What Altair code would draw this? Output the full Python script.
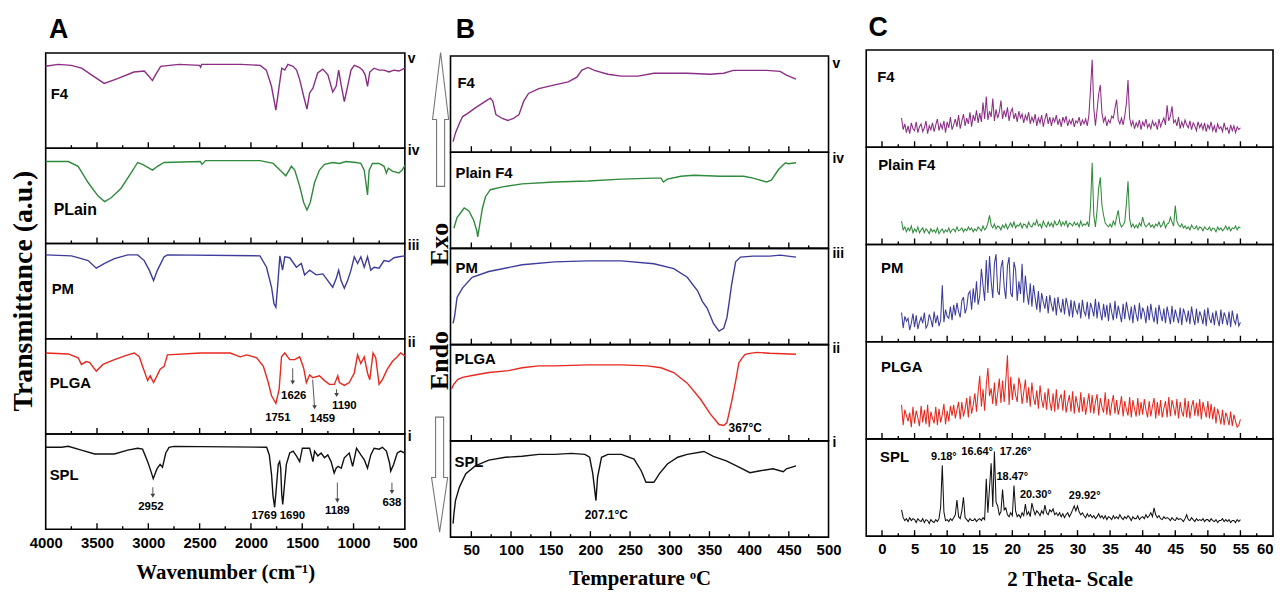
import altair as alt
import pandas as pd

SANS = "'Liberation Sans Narrow', 'Arial Narrow', 'Liberation Sans', Arial, sans-serif"
SERIF = "'Liberation Serif', 'Times New Roman', serif"
LETTER = "'Liberation Sans', Arial, sans-serif"

COL_F4 = "#8b2d84"
COL_PLAIN = "#2f8a3c"
COL_PM = "#3c3c9c"
COL_PLGA = "#e6281e"
COL_SPL = "#111111"

# ---------------- Panel A : FTIR (wavenumber, transmittance a.u. 0-100 per strip) -------------
ftir_f4_wn = [4000, 3880, 3750, 3650, 3540, 3430, 3300, 3140, 3040, 2990, 2960, 2930, 2880, 2700, 2500, 2490,
              2480, 2100, 1910, 1850, 1800, 1757, 1725, 1700, 1670, 1640, 1590, 1555, 1525, 1485, 1454, 1428,
              1396, 1350, 1300, 1250, 1203, 1170, 1145, 1122, 1090, 1058, 1025, 993, 945, 912, 887, 864, 842,
              800, 750, 703, 655, 606, 558, 500]
ftir_f4 = [86, 88, 87, 84, 76, 68, 73, 80, 81, 75, 71, 77, 86, 88, 87, 85,
           88, 88, 87, 82, 65, 40, 65, 84, 82, 88, 86, 82, 72, 54, 41, 58,
           63, 79, 83, 77, 59, 65, 82, 67, 49, 65, 82, 87, 85, 82, 77, 65, 80,
           84, 82, 82, 80, 82, 81, 84]

ftir_plain_wn = [4000, 3780, 3684, 3587, 3491, 3426, 3362, 3265, 3168, 3104, 3056, 2959, 2911, 2846, 2492, 2476,
                 2443, 1912, 1783, 1718, 1660, 1606, 1573, 1525, 1486, 1454, 1422, 1380, 1332, 1283, 1203, 1138,
                 1074, 977, 929, 896, 880, 864, 848, 816, 751, 703, 680, 661, 622, 558, 526, 500]
ftir_plain = [86, 86, 81, 64, 50, 44, 48, 58, 74, 85, 83, 77, 81, 85, 86, 83,
              87, 87, 84, 77, 71, 81, 77, 60, 43, 35, 43, 64, 77, 83, 85, 84,
              86, 85, 84, 77, 64, 51, 77, 84, 84, 81, 74, 79, 76, 74, 77, 82]

ftir_pm_wn = [4000, 3750, 3652, 3587, 3507, 3426, 3330, 3200, 3104, 3040, 2991, 2949, 2911, 2846, 2814, 1912,
              1848, 1799, 1776, 1757, 1740, 1718, 1692, 1670, 1622, 1557, 1509, 1477, 1428, 1364, 1299, 1251,
              1203, 1170, 1145, 1122, 1090, 1058, 1025, 993, 961, 929, 896, 864, 832, 800, 751, 703, 655, 606,
              558, 500]
ftir_pm = [88, 87, 84, 82, 74, 79, 84, 88, 88, 82, 72, 61, 72, 86, 88, 87,
           75, 54, 37, 33, 55, 87, 72, 86, 85, 75, 79, 67, 72, 67, 68, 61,
           54, 63, 72, 61, 53, 61, 72, 86, 79, 86, 75, 86, 72, 75, 74, 82, 81, 85,
           86, 87]

ftir_plga_wn = [4000, 3781, 3684, 3652, 3604, 3571, 3507, 3442, 3330, 3201, 3136, 3088, 3056, 3007, 2982, 2949,
                2911, 2885, 2846, 2814, 2492, 2202, 2105, 2041, 1944, 1879, 1831, 1799, 1757, 1725, 1702, 1670,
                1622, 1573, 1525, 1486, 1460, 1428, 1396, 1332, 1283, 1235, 1187, 1154, 1138, 1090, 1042, 993,
                961, 929, 896, 864, 842, 810, 784, 751, 719, 671, 622, 574, 542, 500]
ftir_plga = [85, 84, 80, 73, 76, 75, 66, 73, 78, 83, 85, 81, 71, 56, 61, 54,
             62, 68, 71, 83, 85, 85, 81, 83, 80, 71, 54, 40, 32, 47, 81, 85,
             78, 78, 81, 69, 54, 62, 59, 61, 56, 52, 52, 61, 54, 51, 54, 64,
             83, 74, 81, 64, 57, 85, 80, 52, 57, 68, 76, 81, 85, 82]

ftir_spl_wn = [4000, 3845, 3781, 3652, 3523, 3330, 3201, 3104, 3056, 3007, 2975, 2952, 2917, 2885, 2862, 2830,
               2798, 2750, 1847, 1821, 1799, 1785, 1769, 1752, 1734, 1720, 1710, 1700, 1690, 1675, 1655, 1622,
               1589, 1557, 1525, 1499, 1428, 1396, 1380, 1348, 1316, 1283, 1251, 1219, 1189, 1170, 1150, 1120,
               1090, 1042, 1009, 971, 929, 896, 864, 832, 800, 751, 719, 680, 648, 638, 610, 574, 542, 500]
ftir_spl = [86, 86, 87, 83, 79, 79, 83, 85, 84, 71, 61, 53, 63, 68, 65, 80,
            86, 87, 86, 78, 57, 35, 23, 44, 68, 71, 64, 37, 26, 44, 68, 80,
            82, 77, 71, 85, 85, 71, 82, 77, 80, 75, 78, 71, 59, 64, 66, 64,
            75, 80, 66, 85, 78, 73, 64, 78, 85, 84, 86, 82, 69, 61, 68, 80, 82, 80]

# peak annotations (wavenumber, level, text) and arrows (x, x2, y, y2)
plga_ann_x = [1583, 1738, 1303, 1090]
plga_ann_y = [40, 17, 16, 29]
plga_ann_s = ["1626", "1751", "1459", "1190"]
plga_arr_x = [1593, 1399, 1167]
plga_arr_x2 = [1593, 1380, 1165]
plga_arr_y = [69, 57, 47]
plga_arr_y2 = [54, 28, 41]

spl_ann_x = [2975, 1872, 1596, 1158, 626]
spl_ann_y = [23, 14, 14, 19, 28]
spl_ann_s = ["2952", "1769", "1690", "1189", "638"]
spl_arr_x = [2956, 1158, 626]
spl_arr_x2 = [2956, 1158, 626]
spl_arr_y = [44, 49, 49]
spl_arr_y2 = [35, 30, 39]

ftir_major = [3500, 3000, 2500, 2000, 1500, 1000]
ftir_minor = [3750, 3250, 2750, 2250, 1750, 1250, 750]
ftir_labels = [4000, 3500, 3000, 2500, 2000, 1500, 1000, 500]

# ---------------- Panel B : DSC (temperature, heat flow a.u.) -------------
dsc_f4_t = [27, 30, 35, 39, 45, 55, 68, 74, 77, 81, 89, 96, 103, 110, 116, 122, 135, 155, 172, 183,
            189, 197, 205, 222, 239, 260, 280, 301, 322, 351, 368, 380, 397, 422, 439, 447, 459]
dsc_f4 = [11, 20, 30, 37, 40, 46, 53, 56, 53, 39, 35, 33, 35, 39, 53, 61, 66, 70, 73, 78,
          85, 88, 85, 81, 79, 79, 82, 82, 82, 81, 82, 85, 85, 85, 84, 80, 76]

dsc_plain_t = [28, 32, 41, 47, 53, 57, 58, 60, 64, 68, 74, 89, 114, 155, 197, 239,
               280, 289, 292, 297, 314, 330, 364, 393, 405, 422, 428, 437, 443, 446, 449, 459]
dsc_plain = [21, 32, 42, 39, 29, 18, 12, 22, 42, 54, 61, 64, 67, 69, 70, 72,
             73, 73, 69, 72, 75, 76, 75, 75, 73, 69, 71, 82, 87, 89, 88, 89]

dsc_pm_t = [27, 29, 32, 39, 51, 72, 114, 155, 197, 239, 280, 305, 322, 335, 341, 347,
            355, 362, 368, 372, 375, 378, 383, 389, 405, 426, 439, 459]
dsc_pm = [22, 30, 49, 59, 70, 76, 83, 86, 87, 87, 84, 79, 70, 56, 45, 38,
          22, 14, 17, 28, 45, 63, 86, 91, 92, 92, 93, 91]

dsc_plga_t = [25, 28, 33, 39, 51, 72, 97, 114, 135, 155, 197, 239, 272, 289, 305, 322,
              339, 351, 362, 368, 372, 378, 383, 387, 391, 395, 401, 410, 426, 459]
dsc_plga = [54, 59, 64, 66, 68, 71, 73, 76, 78, 78, 79, 79, 78, 76, 71, 60,
            43, 28, 17, 16, 19, 41, 62, 81, 86, 90, 91, 92, 91, 90]

dsc_spl_t = [27, 28, 30, 35, 43, 55, 72, 93, 114, 135, 155, 176, 193, 199, 203, 207, 209, 214, 222,
             239, 255, 264, 270, 280, 287, 297, 310, 322, 343, 355, 372, 389, 401, 414, 430, 443, 447, 459]
dsc_spl = [14, 24, 38, 52, 66, 74, 80, 83, 84, 86, 86, 87, 86, 83, 66, 38, 62, 83, 86,
           86, 81, 69, 57, 57, 66, 76, 83, 86, 89, 84, 79, 72, 67, 69, 71, 68, 71, 74]

dsc_major = [50, 100, 150, 200, 250, 300, 350, 400, 450]
dsc_minor = [75, 125, 175, 225, 275, 325, 375, 425, 475]
dsc_labels = [50, 100, 150, 200, 250, 300, 350, 400, 450, 500]

# ---------------- Panel C : XRD (2 theta from 3 to 55 in steps of 0.25) -------------
XRD_START, XRD_STEP = 3.0, 0.25
xrd_f4 = [30, 18, 24, 15, 22, 14, 25, 19, 17, 26, 15, 21, 24, 16, 20, 27,
          14, 22, 18, 25, 16, 23, 29, 17, 24, 19, 27, 15, 26, 20, 31, 18,
          23, 29, 21, 33, 19, 27, 34, 22, 30, 24, 36, 21, 33, 27, 38, 25,
          35, 26, 46, 29, 52, 28, 37, 31, 50, 27, 39, 30, 36, 48, 29, 38,
          31, 41, 27, 36, 40, 29, 35, 26, 37, 30, 34, 25, 33, 28, 36, 24,
          31, 26, 34, 22, 30, 25, 33, 21, 29, 35, 24, 31, 22, 30, 26, 33,
          23, 29, 21, 31, 26, 32, 22, 28, 24, 30, 21, 27, 25, 31, 22, 28,
          24, 29, 22, 33, 60, 90, 40, 22, 38, 55, 64, 35, 26, 31, 22, 28,
          25, 32, 30, 40, 49, 28, 24, 30, 23, 32, 45, 69, 30, 22, 27, 19,
          25, 21, 28, 18, 26, 22, 29, 20, 24, 19, 27, 22, 25, 18, 29, 21,
          26, 30, 23, 43, 27, 32, 42, 25, 28, 22, 31, 19, 26, 21, 28, 23,
          20, 27, 18, 25, 22, 17, 26, 20, 24, 18, 25, 16, 23, 19, 26, 17,
          22, 15, 24, 19, 21, 16, 25, 18, 20, 14, 23, 17, 22, 15, 21, 18,
          20]
xrd_plain = [24, 15, 18, 13, 17, 14, 19, 12, 16, 13, 18, 12, 15, 17, 12, 16,
             14, 11, 16, 13, 15, 12, 17, 11, 14, 16, 12, 15, 13, 17, 12, 15,
             16, 13, 18, 14, 15, 17, 13, 16, 14, 18, 15, 17, 13, 16, 14, 18,
             16, 14, 19, 15, 17, 22, 30, 20, 17, 21, 16, 19, 18, 15, 20, 17,
             21, 16, 19, 22, 18, 23, 17, 20, 19, 22, 17, 21, 20, 17, 23, 19,
             18, 22, 20, 25, 19, 21, 17, 24, 20, 18, 23, 19, 22, 18, 24, 20,
             21, 25, 19, 23, 20, 24, 18, 22, 21, 19, 23, 20, 22, 18, 24, 19,
             21, 20, 23, 18, 40, 84, 30, 18, 35, 58, 69, 40, 30, 22, 20, 18,
             21, 18, 24, 20, 28, 35, 22, 18, 20, 23, 42, 65, 26, 18, 21, 17,
             20, 17, 22, 19, 28, 21, 18, 20, 22, 18, 20, 17, 21, 19, 23, 18,
             20, 24, 17, 21, 22, 28, 23, 19, 40, 24, 20, 18, 21, 17, 19, 16,
             18, 15, 20, 17, 16, 19, 15, 18, 17, 14, 18, 16, 15, 18, 14, 17,
             16, 13, 18, 15, 17, 14, 16, 19, 15, 18, 14, 17, 16, 19, 15, 18,
             17]
xrd_pm = [30, 14, 26, 21, 24, 12, 19, 29, 15, 27, 13, 20, 25, 19, 30, 14,
          17, 28, 23, 15, 31, 19, 27, 16, 22, 58, 20, 33, 26, 24, 36, 22,
          38, 27, 40, 31, 25, 42, 46, 29, 35, 49, 52, 33, 55, 40, 62, 38,
          47, 75, 58, 42, 84, 50, 88, 62, 45, 80, 90, 52, 48, 76, 84, 56,
          44, 78, 87, 50, 46, 82, 74, 42, 62, 49, 80, 40, 68, 50, 38, 60,
          36, 58, 45, 33, 52, 30, 50, 41, 34, 47, 29, 48, 38, 31, 45, 27,
          46, 35, 30, 44, 28, 45, 37, 26, 43, 25, 42, 33, 29, 40, 24, 43,
          31, 27, 41, 23, 40, 34, 26, 44, 24, 41, 30, 22, 39, 25, 38, 21,
          40, 30, 22, 42, 24, 37, 29, 20, 39, 23, 41, 31, 22, 36, 19, 38,
          28, 21, 40, 23, 35, 30, 19, 37, 22, 39, 27, 20, 35, 18, 38, 29,
          21, 34, 19, 36, 27, 18, 37, 20, 33, 26, 19, 35, 17, 34, 28, 20,
          32, 18, 36, 25, 17, 34, 19, 31, 26, 18, 33, 16, 35, 24, 19, 30,
          17, 32, 23, 16, 33, 18, 30, 25, 17, 31, 15, 32, 22, 18, 29, 16,
          20]
xrd_plga = [35, 14, 30, 24, 18, 27, 12, 33, 16, 29, 22, 13, 34, 17, 30, 15,
            35, 12, 28, 21, 16, 33, 14, 31, 17, 25, 36, 15, 29, 18, 34, 24,
            35, 21, 30, 38, 20, 38, 23, 31, 42, 22, 44, 26, 35, 47, 28, 48,
            65, 33, 51, 29, 55, 73, 44, 52, 36, 58, 34, 47, 62, 37, 60, 38,
            60, 86, 35, 64, 40, 57, 45, 38, 63, 55, 36, 48, 61, 37, 53, 33,
            58, 42, 35, 50, 31, 55, 40, 32, 48, 30, 52, 38, 29, 47, 28, 51,
            30, 41, 46, 29, 50, 27, 37, 45, 28, 49, 26, 44, 35, 27, 48, 28,
            43, 25, 36, 47, 27, 45, 26, 38, 46, 24, 42, 33, 27, 48, 25, 41,
            24, 36, 45, 26, 40, 25, 33, 44, 23, 39, 30, 24, 43, 22, 40, 31,
            23, 42, 24, 38, 25, 41, 30, 22, 39, 23, 34, 42, 21, 38, 24, 40,
            22, 31, 39, 22, 43, 23, 40, 33, 24, 41, 21, 38, 28, 23, 42, 22,
            39, 21, 33, 40, 24, 37, 23, 41, 20, 38, 30, 22, 39, 21, 36, 20,
            33, 16, 31, 24, 15, 30, 14, 27, 22, 14, 28, 13, 25, 18, 12, 14,
            20]
xrd_spl = [27, 19, 16, 18, 15, 19, 16, 18, 17, 14, 18, 16, 15, 18, 14, 17,
           16, 13, 17, 15, 14, 17, 15, 18, 30, 73, 25, 16, 17, 15, 18, 16,
           19, 22, 37, 20, 18, 26, 40, 19, 17, 15, 18, 16, 16, 18, 15, 17,
           18, 16, 19, 17, 59, 24, 50, 75, 30, 87, 35, 31, 22, 25, 48, 27,
           29, 22, 20, 24, 21, 52, 26, 20, 22, 19, 24, 21, 33, 22, 25, 20,
           34, 27, 22, 26, 24, 21, 26, 23, 32, 24, 22, 27, 25, 28, 22, 24,
           21, 24, 20, 23, 19, 22, 24, 20, 23, 27, 31, 26, 31, 25, 22, 24,
           21, 19, 23, 20, 22, 19, 21, 18, 20, 23, 19, 21, 18, 21, 17, 20,
           19, 17, 21, 18, 20, 18, 22, 19, 17, 20, 18, 21, 19, 16, 20, 18,
           18, 21, 17, 19, 20, 18, 22, 19, 21, 24, 20, 29, 22, 19, 21, 18,
           17, 20, 18, 19, 18, 16, 19, 17, 16, 19, 17, 18, 17, 15, 18, 22,
           17, 16, 19, 17, 15, 18, 16, 17, 16, 18, 15, 17, 17, 15, 18, 16,
           15, 17, 14, 16, 16, 18, 15, 17, 15, 17, 14, 16, 16, 14, 17, 15,
           17]

xrd_ann_x = [9.5, 14.6, 20.5, 20.0, 23.6, 31.1]
xrd_ann_y = [81, 87, 87, 61, 42, 41]
xrd_ann_s = ["9.18°", "16.64°", "17.26°", "18.47°", "20.30°", "29.92°"]

xrd_major = [0, 5, 10, 15, 20, 25, 30, 35, 40, 45, 50, 55]
xrd_minor = [2.5, 7.5, 12.5, 17.5, 22.5, 27.5, 32.5, 37.5, 42.5, 47.5, 52.5, 57.5]
xrd_labels = [0, 5, 10, 15, 20, 25, 30, 35, 40, 45, 50, 55, 60]

dsc_ann_plga = ("367°C", 395, 13)
dsc_ann_spl = ("207.1°C", 220, 23)


def xrd_theta(vals):
    return [XRD_START + XRD_STEP * i for i in range(len(vals))]


# ---------------- helpers -------------
def txt(s, x, y, size, align="left", font=SANS, angle=None, color="black", baseline="middle"):
    kw = dict(align=align, baseline=baseline, font=font, fontSize=size, fontWeight="bold", color=color)
    if angle is not None:
        kw["angle"] = angle
    return alt.Chart(pd.DataFrame({"s": [s]})).mark_text(**kw).encode(
        x=alt.value(x), y=alt.value(y), text="s:N")


def bound_rule(left, right):
    # invisible (white) rule that fixes the horizontal extent of a column for the concat layout
    return alt.Chart(pd.DataFrame({"a": [0]})).mark_rule(color="white", strokeWidth=0.5).encode(
        x=alt.value(left), x2=alt.value(right), y=alt.value(-30))


def strip(xs, ys, color, xdom, rev, W, H, major, minor, axis=None, sw=1.4,
          ann=None, arrows=None, ann_size=12, extras=()):
    xsc = alt.Scale(domain=xdom, reverse=rev, nice=False, zero=False)
    ysc = alt.Scale(domain=[0, 100], nice=False, zero=False)
    layers = [
        alt.Chart(pd.DataFrame({"x": xs, "y": ys})).mark_line(color=color, strokeWidth=sw).encode(
            x=alt.X("x:Q", scale=xsc, axis=axis), y=alt.Y("y:Q", scale=ysc, axis=None)),
        alt.Chart(pd.DataFrame({"t": major})).mark_rule(color="black", strokeWidth=1.4).encode(
            x=alt.X("t:Q", scale=xsc, axis=axis), y=alt.value(H), y2=alt.value(H - 6)),
        alt.Chart(pd.DataFrame({"t": minor})).mark_rule(color="black", strokeWidth=1.4).encode(
            x=alt.X("t:Q", scale=xsc, axis=axis), y=alt.value(H), y2=alt.value(H - 3)),
    ]
    if arrows is not None:
        adf = pd.DataFrame({"x": arrows[0], "x2": arrows[1], "y": arrows[2], "y2": arrows[3]})
        layers.append(alt.Chart(adf).mark_rule(color="#555555", strokeWidth=1).encode(
            x=alt.X("x:Q", scale=xsc, axis=axis), x2="x2:Q",
            y=alt.Y("y:Q", scale=ysc, axis=None), y2="y2:Q"))
        layers.append(alt.Chart(adf).mark_point(shape="triangle-down", filled=True, size=22,
                                                color="#444444", opacity=1).encode(
            x=alt.X("x2:Q", scale=xsc, axis=axis), y=alt.Y("y2:Q", scale=ysc, axis=None)))
    if ann is not None:
        tdf = pd.DataFrame({"x": ann[0], "y": ann[1], "s": ann[2]})
        layers.append(alt.Chart(tdf).mark_text(font=SANS, fontSize=ann_size, fontWeight="bold",
                                               color="black", align="center", baseline="middle").encode(
            x=alt.X("x:Q", scale=xsc, axis=axis), y=alt.Y("y:Q", scale=ysc, axis=None), text="s:N"))
    layers.extend(extras)
    return alt.layer(*layers).properties(width=W, height=H)


def spacer(W, h):
    return alt.Chart(pd.DataFrame({"a": [0]})).mark_point(opacity=0).encode(
        x=alt.value(0), y=alt.value(0)).properties(width=W, height=h, view=alt.ViewBackground(strokeOpacity=0))


def bottom_axis(values, title, tpad, flush=False):
    return alt.Axis(values=values, format="d", title=title, titlePadding=tpad, labelFlush=flush,
                    labelOverlap=False)


# ---------------- Panel A -------------
WA, HA = 362, 96
domA = [500, 4000]
A5 = strip(ftir_f4_wn, ftir_f4, COL_F4, domA, True, WA, HA, ftir_major, ftir_minor,
           extras=[bound_rule(-36, WA + 17),
                   txt("F4", 5, 41, 15), txt("v", WA + 3, 6, 14),
                   txt("A", 13, -15, 27, align="center", font=LETTER, baseline="alphabetic")])
A4 = strip(ftir_plain_wn, ftir_plain, COL_PLAIN, domA, True, WA, HA, ftir_major, ftir_minor,
           extras=[txt("PLain", 8, 62, 16), txt("iv", WA + 3, 3, 14)])
A3 = strip(ftir_pm_wn, ftir_pm, COL_PM, domA, True, WA, HA, ftir_major, ftir_minor,
           extras=[txt("PM", 6, 46, 15), txt("iii", WA + 3, 3, 14),
                   txt("Transmittance (a.u.)", -22, 48, 28, align="center", font=SERIF, angle=270)])
A2 = strip(ftir_plga_wn, ftir_plga, COL_PLGA, domA, True, WA, HA, ftir_major, ftir_minor,
           ann=(plga_ann_x, plga_ann_y, plga_ann_s), ann_size=11.5,
           arrows=(plga_arr_x, plga_arr_x2, plga_arr_y, plga_arr_y2),
           extras=[txt("PLGA", 4, 45, 15), txt("ii", WA + 3, 4, 14)])
A1 = strip(ftir_spl_wn, ftir_spl, COL_SPL, domA, True, WA, HA, ftir_major, ftir_minor,
           axis=bottom_axis(ftir_labels, "Wavenumber (cm⁻¹)", 12),
           ann=(spl_ann_x, spl_ann_y, spl_ann_s), ann_size=11.5,
           arrows=(spl_arr_x, spl_arr_x2, spl_arr_y, spl_arr_y2),
           extras=[txt("SPL", 4, 41, 15), txt("i", WA + 3, 3, 14)])
colA = alt.vconcat(spacer(WA, 3), A5, A4, A3, A2, A1, spacing=0, bounds="flush")

# ---------------- Panel B -------------
WB, HB = 381, 97
domB = [23.75, 500]
up_arrow = alt.Chart(pd.DataFrame({"a": [0]})).mark_point(
    shape="M0,-1L0.12,0L0.06,0L0.06,1L-0.06,1L-0.06,0L-0.12,0Z", filled=False, size=18225,
    color="#777777", strokeWidth=1.1, opacity=1).encode(x=alt.value(-10), y=alt.value(64))
down_arrow = alt.Chart(pd.DataFrame({"a": [0]})).mark_point(
    shape="M-0.07,-1L0.07,-1L0.07,0.05L0.14,0.05L0,1L-0.14,0.05L-0.07,0.05Z", filled=False, size=13456,
    color="#777777", strokeWidth=1.1, opacity=1).encode(x=alt.value(-11), y=alt.value(422))

B5 = strip(dsc_f4_t, dsc_f4, COL_F4, domB, False, WB, HB, dsc_major, dsc_minor,
           extras=[bound_rule(-25, WB + 17),
                   txt("F4", 7, 27, 15), txt("v", WB + 4, 8, 14),
                   txt("B", 15, -18, 27, align="center", font=LETTER, baseline="alphabetic"),
                   up_arrow, down_arrow,
                   txt("Exo", -11, 190, 26, align="center", font=SERIF, angle=270),
                   txt("Endo", -11, 307, 26, align="center", font=SERIF, angle=270)])
B4 = strip(dsc_plain_t, dsc_plain, COL_PLAIN, domB, False, WB, HB, dsc_major, dsc_minor,
           extras=[txt("Plain F4", 5, 21, 15), txt("iv", WB + 4, 7, 14)])
B3 = strip(dsc_pm_t, dsc_pm, COL_PM, domB, False, WB, HB, dsc_major, dsc_minor,
           extras=[txt("PM", 5, 20, 15), txt("iii", WB + 4, 6, 14)])
B2 = strip(dsc_plga_t, dsc_plga, COL_PLGA, domB, False, WB, HB, dsc_major, dsc_minor,
           ann=([dsc_ann_plga[1]], [dsc_ann_plga[2]], [dsc_ann_plga[0]]),
           extras=[txt("PLGA", 4, 15, 15), txt("ii", WB + 4, 4, 14)])
B1 = strip(dsc_spl_t, dsc_spl, COL_SPL, domB, False, WB, HB, dsc_major, dsc_minor,
           axis=bottom_axis(dsc_labels, "Temperature ᵒC", 10),
           ann=([dsc_ann_spl[1]], [dsc_ann_spl[2]], [dsc_ann_spl[0]]),
           extras=[txt("SPL", 4, 21, 15), txt("i", WB + 4, 2, 14)])
colB = alt.vconcat(spacer(WB, 6), B5, B4, B3, B2, B1, spacing=0, bounds="flush")

# ---------------- Panel C -------------
WC, HC = 410, 98
domC = [-2.42, 60]
XSW = 1.05
C5 = strip(xrd_theta(xrd_f4), xrd_f4, COL_F4, domC, False, WC, HC, xrd_major, xrd_minor, sw=XSW,
           extras=[bound_rule(-17, WC),
                   txt("F4", 11, 27, 15),
                   txt("C", 12, -14, 27, align="center", font=LETTER, baseline="alphabetic")])
C4 = strip(xrd_theta(xrd_plain), xrd_plain, COL_PLAIN, domC, False, WC, HC, xrd_major, xrd_minor, sw=XSW,
           extras=[txt("Plain F4", 12, 18, 15)])
C3 = strip(xrd_theta(xrd_pm), xrd_pm, COL_PM, domC, False, WC, HC, xrd_major, xrd_minor, sw=XSW,
           extras=[txt("PM", 15, 24, 15)])
C2 = strip(xrd_theta(xrd_plga), xrd_plga, COL_PLGA, domC, False, WC, HC, xrd_major, xrd_minor, sw=XSW,
           extras=[txt("PLGA", 15, 26, 15)])
C1 = strip(xrd_theta(xrd_spl), xrd_spl, COL_SPL, domC, False, WC, HC, xrd_major, xrd_minor, sw=XSW,
           axis=bottom_axis(xrd_labels, "2 Theta- Scale", 12, flush=True),
           ann=(xrd_ann_x, xrd_ann_y, xrd_ann_s), ann_size=11,
           extras=[txt("SPL", 14, 18, 15)])
colC = alt.vconcat(C5, C4, C3, C2, C1, spacing=0, bounds="flush")

chart = alt.hconcat(colA, colB, colC, spacing=0).properties(
    padding={"left": 0, "top": 3, "right": 0, "bottom": 0}
).configure_view(
    stroke="black", strokeWidth=1.6
).configure_axis(
    grid=False, ticks=False, domain=False,
    labelFont=SANS, labelFontSize=15, labelFontWeight="bold", labelColor="black", labelPadding=6,
    titleFont=SERIF, titleFontSize=21, titleFontWeight="bold", titleColor="black"
)

chart.save("out.html", embed_options={"renderer": "svg", "actions": False})
